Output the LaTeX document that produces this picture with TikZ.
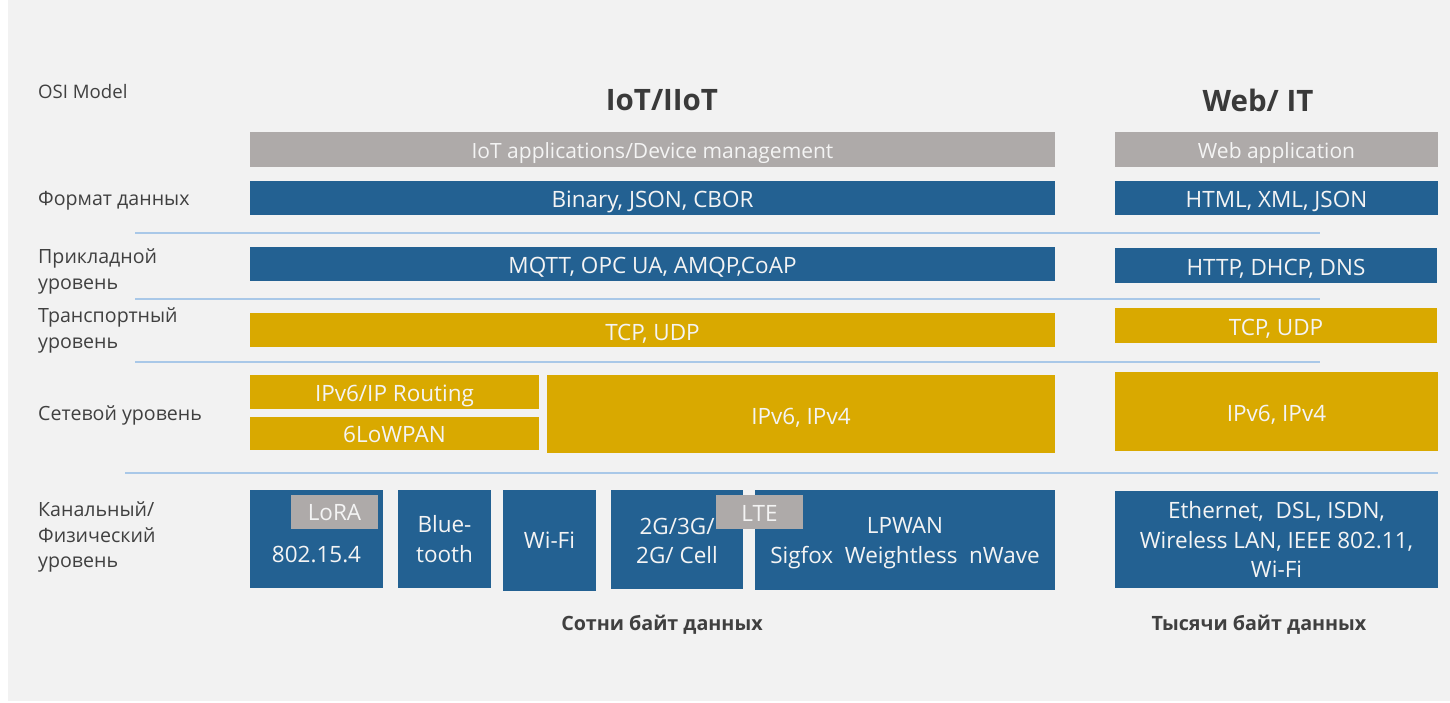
\documentclass[tikz,border=0pt]{standalone}
\usepackage{fontspec}
\setmainfont{Open Sans}
\definecolor{bgray}{HTML}{F2F2F2}
\definecolor{iotblue}{HTML}{236192}
\definecolor{iotgold}{HTML}{D9A900}
\definecolor{iotgray}{HTML}{AEAAA9}
\definecolor{sepline}{HTML}{A9C8E8}
\definecolor{labeltext}{HTML}{404040}
\definecolor{boxtext}{HTML}{F4F4F4}
\tikzset{
  layerbox/.style={inner sep=0pt, outer sep=0pt, draw=none},
  bluebox/.style={layerbox, fill=iotblue},
  goldbox/.style={layerbox, fill=iotgold},
  graybox/.style={layerbox, fill=iotgray},
  boxlabel/.style={inner sep=0pt, align=center, text=boxtext,
    font=\fontsize{22.5}{29.5}\selectfont},
  toplabel/.style={boxlabel, font=\fontsize{21}{29.5}\selectfont},
  osilabel/.style={anchor=base west, inner sep=0pt, text=labeltext,
    font=\fontsize{19.6}{26}\selectfont},
  heading/.style={inner sep=0pt, text=labeltext!90!black,
    font=\bfseries\fontsize{29.5}{32}\selectfont},
  footnote/.style={inner sep=0pt, text=labeltext,
    font=\bfseries\fontsize{19.7}{22}\selectfont},
  sep/.style={draw=sepline, line width=1.6pt}
}
% \blk[text shift]{name}{fill style}{x1}{y1}{x2}{y2}{text}
% draws the box between two corners and its label, named name-t
\newcommand{\blk}[8][-3.5pt]{%
  \node[#3, minimum width={(#6-#4)*1pt}, minimum height={(#7-#5)*1pt}]
    (#2) at ({(#4+#6)/2},{(#5+#7)/2}) {};
  \node[boxlabel, yshift=#1] (#2-t) at (#2.center) {#8};}
\begin{document}
\begin{tikzpicture}[x=1pt,y=-1pt]
\useasboundingbox (0,0) rectangle (1450,702);
\fill[white] (0,0) rectangle (1450,702);
\fill[bgray] (8,0) rectangle (1450,701);

% separators between OSI layers
\coordinate (s1a) at (135,233); \coordinate (s1b) at (1320,233);
\coordinate (s2a) at (135,299); \coordinate (s2b) at (1320,299);
\coordinate (s3a) at (135,362); \coordinate (s3b) at (1320,362);
\coordinate (s4a) at (125,473); \coordinate (s4b) at (1438,473);
\draw[sep] (s1a) -- (s1b);
\draw[sep] (s2a) -- (s2b);
\draw[sep] (s3a) -- (s3b);
\draw[sep] (s4a) -- (s4b);

% layer names
\node[osilabel, font=\fontsize{18.6}{26}\selectfont] (osi) at (38,98) {OSI Model};
\node[osilabel] (lfmt) at (38,205) {Формат данных};
\node[osilabel] (lapp1) at (38,263) {Прикладной};
\node[osilabel] (lapp2) at (38,289) {уровень};
\node[osilabel] (ltr1) at (38,322) {Транспортный};
\node[osilabel] (ltr2) at (38,348) {уровень};
\node[osilabel] (lnet) at (38,420) {Сетевой уровень};
\node[osilabel] (llink1) at (38,516) {Канальный/};
\node[osilabel] (llink2) at (38,542) {Физический};
\node[osilabel] (llink3) at (38,567) {уровень};

% column headings
\node[heading] (hiot) at (662,100) {IoT/IIoT};
\node[heading] (hweb) at (1258,100) {Web/ IT};

% IoT / IIoT stack
\blk[-4pt]{iapp}{graybox}{250}{132}{1055}{167}{\fontsize{21}{29.5}\selectfont IoT applications/Device management}
\blk{ifmt}{bluebox}{250}{181}{1055}{215}{Binary, JSON, CBOR}
\blk{iproto}{bluebox}{250}{247}{1055}{281}{MQTT, OPC UA, AMQP,CoAP}
\blk{itr}{goldbox}{250}{313}{1055}{347}{TCP, UDP}
\blk{iroute}{goldbox}{250}{375}{539}{409}{IPv6/IP Routing}
\blk[-1pt]{ilow}{goldbox}{250}{417}{539}{450}{6LoWPAN}
\blk{inet}{goldbox}{547}{375}{1055}{453}{IPv6, IPv4}
\blk[-4pt]{i154}{bluebox}{250}{490}{383}{588}{\rule{0pt}{40pt}802.15.4}
\blk[-1pt]{ilora}{graybox}{291}{495}{378}{529}{LoRA}
\blk[0pt]{ibt}{bluebox}{398}{490}{491}{588}{Blue-\\tooth}
\blk[0pt]{iwifi}{bluebox}{503}{490}{596}{591}{Wi-Fi}
\blk[-1.5pt]{icell}{bluebox}{611}{490}{743}{589}{2G/3G/\\2G/ Cell}
\blk[-3pt]{ilpwan}{bluebox}{755}{490}{1055}{590}{LPWAN\\Sigfox\ \ Weightless\ \ nWave}
\blk[-1pt]{ilte}{graybox}{716}{495}{803}{529}{LTE}

% Web / IT stack
\blk[-4pt]{wapp}{graybox}{1115}{132}{1438}{167}{\fontsize{21}{29.5}\selectfont Web application}
\blk{wfmt}{bluebox}{1115}{181}{1438}{215}{HTML, XML, JSON}
\blk[-3pt]{wproto}{bluebox}{1115}{248}{1437}{283}{HTTP, DHCP, DNS}
\blk{wtr}{goldbox}{1115}{308}{1437}{343}{TCP, UDP}
\blk{wnet}{goldbox}{1115}{372}{1438}{451}{IPv6, IPv4}
\blk[0pt]{wlink}{bluebox}{1115}{491}{1438}{588}{Ethernet,\ \ DSL, ISDN,\\Wireless LAN, IEEE 802.11,\\Wi-Fi}

% payload size notes
\node[footnote] (fiot) at (662,625) {Сотни байт данных};
\node[footnote] (fweb) at (1259,625) {Тысячи байт данных};
\end{tikzpicture}
\end{document}
